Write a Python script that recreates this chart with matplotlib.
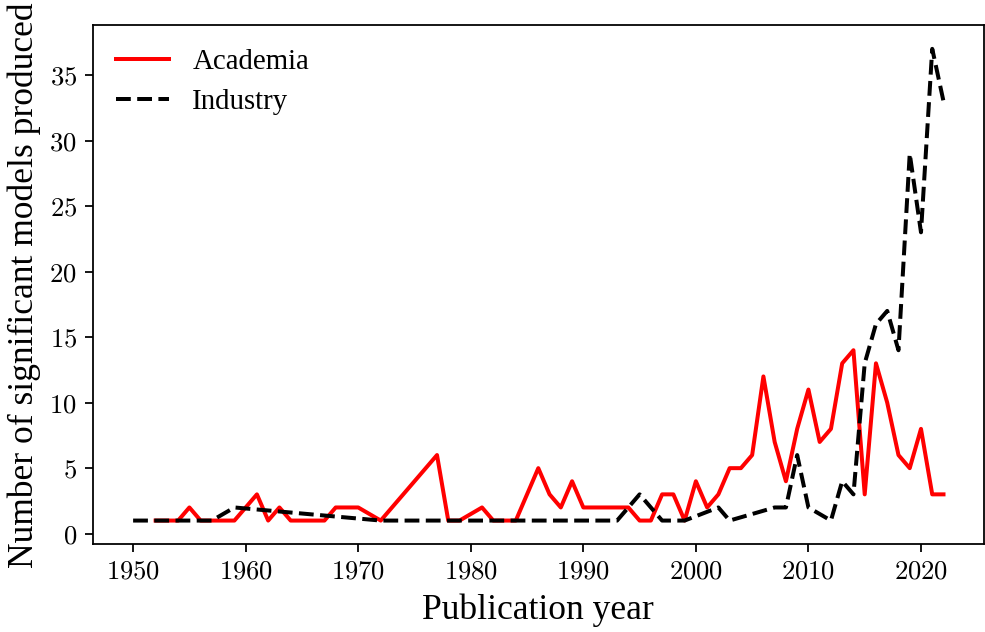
import matplotlib
matplotlib.use("Agg")
import matplotlib.pyplot as plt
from matplotlib.ticker import FuncFormatter

# yearly counts of significant models
academia_years = [1952, 1953, 1954, 1955, 1956, 1957, 1958, 1959, 1960, 1961,
                  1962, 1963, 1964, 1965, 1966, 1967, 1968, 1969, 1970, 1972,
                  1977, 1978, 1979, 1981, 1982, 1983, 1984, 1986, 1987, 1988,
                  1989, 1990, 1991, 1992, 1993, 1994, 1995, 1996, 1997, 1998,
                  1999, 2000, 2001, 2002, 2003, 2004, 2005, 2006, 2007, 2008,
                  2009, 2010, 2011, 2012, 2013, 2014, 2015, 2016, 2017, 2018,
                  2019, 2020, 2021, 2022]
academia_counts = [1, 1, 1, 2, 1, 1, 1, 1, 2, 3,
                   1, 2, 1, 1, 1, 1, 2, 2, 2, 1,
                   6, 1, 1, 2, 1, 1, 1, 5, 3, 2,
                   4, 2, 2, 2, 2, 2, 1, 1, 3, 3,
                   1, 4, 2, 3, 5, 5, 6, 12, 7, 4,
                   8, 11, 7, 8, 13, 14, 3, 13, 10, 6,
                   5, 8, 3, 3]

industry_years = [1950, 1957, 1959, 1972, 1993, 1995, 1997, 1999, 2002, 2003,
                  2007, 2008, 2009, 2010, 2012, 2013, 2014, 2015, 2016, 2017,
                  2018, 2019, 2020, 2021, 2022]
industry_counts = [1, 1, 2, 1, 1, 3, 1, 1, 2, 1,
                   2, 2, 6, 2, 1, 4, 3, 13, 16, 17,
                   14, 29, 23, 37, 33]

plt.rcParams['font.family'] = ['Liberation Serif', 'DejaVu Serif']
plt.rcParams['mathtext.fontset'] = 'cm'
plt.rcParams['font.size'] = 13

fig, ax = plt.subplots(figsize=(985 / 160, 632 / 160), dpi=160)
fig.subplots_adjust(left=0.094, right=0.999, top=0.96, bottom=0.139)

ax.plot(academia_years, academia_counts, color='red', linestyle='-', lw=1.8, label='Academia')
ax.plot(industry_years, industry_counts, color='black', linestyle='--', lw=1.8, label='Industry')

ax.set_xticks(range(1950, 2021, 10))
ax.set_yticks(range(0, 36, 5))
ax.xaxis.set_major_formatter(FuncFormatter(lambda v, p: f'${v:.0f}$'))
ax.yaxis.set_major_formatter(FuncFormatter(lambda v, p: f'${v:.0f}$'))
ax.tick_params(labelsize=12)

ax.set_xlabel('Publication year', fontsize=16)
ax.set_ylabel('Number of significant models produced', fontsize=16)
ax.legend(loc='upper left', frameon=False, fontsize=13,
          handlelength=1.85, borderaxespad=0.4)

fig.savefig('out.png', dpi=160)
